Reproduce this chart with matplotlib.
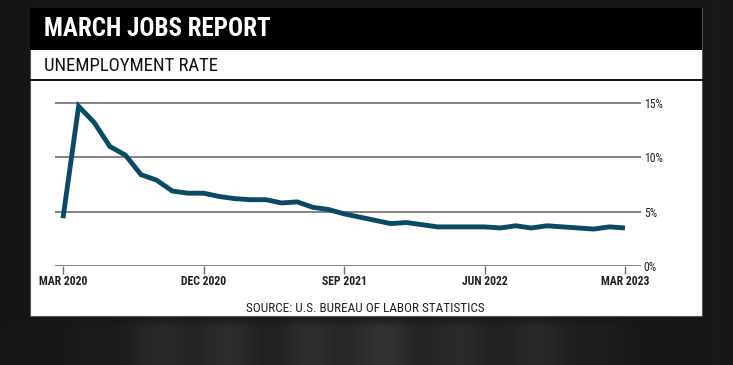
"""March jobs report: unemployment rate, Mar 2020 - Mar 2023."""

import matplotlib
matplotlib.use("Agg")
import matplotlib.pyplot as plt
import numpy as np
from matplotlib import font_manager
from matplotlib.patches import Rectangle
from matplotlib.lines import Line2D

# monthly unemployment rate (%), Mar 2020 .. Mar 2023
rate = [4.4, 14.7, 13.2, 11.0, 10.2, 8.4, 7.9, 6.9, 6.7, 6.7,
        6.4, 6.2, 6.1, 6.1, 5.8, 5.9, 5.4, 5.2, 4.8, 4.5, 4.2, 3.9,
        4.0, 3.8, 3.6, 3.6, 3.6, 3.6, 3.5, 3.7, 3.5, 3.7, 3.6, 3.5,
        3.4, 3.6, 3.5]
tick_months = [0, 9, 18, 27, 36]
tick_labels = ["MAR 2020", "DEC 2020", "SEP 2021", "JUN 2022", "MAR 2023"]
y_ticks = [0, 5, 10, 15]
y_labels = ["0%", "5%", "10%", "15%"]

W, H = 733, 365
LINE = "#0b4a66"
GRID = "#6e6e6e"


def pick_narrow_font():
    """Find a condensed sans family; returns (family, stretch)."""
    fonts = font_manager.fontManager.ttflist
    names = {f.name for f in fonts}
    for name in ["Roboto Condensed", "Liberation Sans Narrow",
                 "Open Sans Condensed", "DejaVu Sans Condensed",
                 "Noto Sans Condensed"]:
        if name in names:
            return name, "normal"
    for f in fonts:
        if f.name in ("DejaVu Sans", "Noto Sans") and str(f.stretch) == "condensed":
            return f.name, "condensed"
    return "DejaVu Sans", "normal"


NARROW, STRETCH = pick_narrow_font()
font = dict(family=[NARROW, "DejaVu Sans"], fontstretch=STRETCH)


def fx(px):
    return px / W


def fy(py):
    return 1 - py / H


fig = plt.figure(figsize=(W / 100, H / 100), dpi=100)
fig.patch.set_facecolor("#171717")

# dark backdrop, a little lighter and streaky below the card
bg = fig.add_axes([0, 0, 1, 1], zorder=-10)
bg.set_axis_off()
rows = np.linspace(0, 1, H)[:, None]
cols = np.linspace(0, 1, W)[None, :]
below = np.clip((rows - 0.86) / 0.04, 0, 1)
across = np.exp(-((cols - 0.48) / 0.33) ** 4)
streaks = 0.02 * np.cos(cols * 60) + 0.015 * np.cos(cols * 23 + 1)
shade = 0.085 + below * (0.08 * across + streaks * across)
shade = shade + 0.012 * np.exp(-((cols - 0.975) / 0.015) ** 2)
bg.imshow(np.dstack([shade] * 3), aspect="auto", extent=[0, 1, 0, 1],
          origin="upper")
bg.set_xlim(0, 1)
bg.set_ylim(0, 1)

# white card, black title strip, subtitle rule
fig.patches.append(Rectangle((fx(30), fy(316)), fx(672), 308 / H,
                             transform=fig.transFigure, facecolor="white",
                             edgecolor="#555555", lw=0.8, zorder=-5))
fig.patches.append(Rectangle((fx(30), fy(50)), fx(672), 42 / H,
                             transform=fig.transFigure, facecolor="black",
                             edgecolor="none", zorder=-4))
fig.lines.append(Line2D([fx(30), fx(702)], [fy(80), fy(80)],
                        transform=fig.transFigure, color="black", lw=1.3))

fig.text(fx(44), fy(29), "MARCH JOBS REPORT", color="white", fontsize=18,
         fontweight="bold", va="center", ha="left", **font)
fig.text(fx(44), fy(66), "UNEMPLOYMENT RATE", color="#111111", fontsize=13.5,
         va="center", ha="left", **font)
fig.text(fx(365), fy(309), "SOURCE: U.S. BUREAU OF LABOR STATISTICS",
         color="#222222", fontsize=9.5, va="center", ha="center", **font)

# chart area: gridlines run from x=55 to x=641, 0% at y=266
ax = fig.add_axes([fx(55), fy(266), fx(586), 170 / H])
ax.set_facecolor("none")
months = np.arange(len(rate))
ppm = (625 - 63) / 36
ax.set_xlim(-(63 - 55) / ppm, 36 + (641 - 625) / ppm)
ppp = (266 - 103) / 15
ax.set_ylim(0, 170 / ppp)

for v in y_ticks:
    ax.axhline(v, color=GRID, lw=1.2, zorder=1)
ax.plot(months, rate, color=LINE, lw=3.5, solid_joinstyle="miter",
        solid_capstyle="butt", zorder=3, clip_on=False)

for s in ax.spines.values():
    s.set_visible(False)

ax.yaxis.tick_right()
ax.set_yticks(y_ticks)
ax.set_yticklabels(y_labels, fontsize=8.5, color="#222222", **font)
ax.tick_params(axis="y", length=0, pad=2)

ax.set_xticks(tick_months)
ax.set_xticklabels(tick_labels, fontsize=8.5, fontweight="bold",
                   color="#222222", va="baseline", **font)
ax.tick_params(axis="x", length=6, width=1, color=GRID, pad=7.5)

fig.savefig("out.png", dpi=100, facecolor=fig.get_facecolor())
